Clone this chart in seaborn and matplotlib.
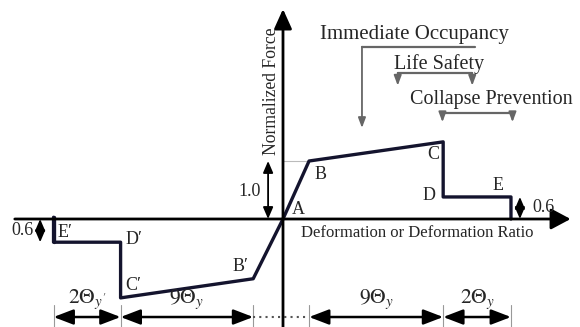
import matplotlib
matplotlib.use('Agg')
import matplotlib.pyplot as plt
import seaborn as sns
import pandas as pd

sns.set_style('white')
plt.rcParams['font.family'] = ['Liberation Serif', 'DejaVu Serif']
plt.rcParams['mathtext.fontset'] = 'stix'

# backbone curve, deformation in theta_y-ish units, force normalised to yield
pos_names = ['A', 'B', 'C', 'D', 'E', '']
pos_x = [0, 1.75, 10.75, 10.75, 15.3, 15.3]
pos_y = [0, 1.0, 1.33, 0.38, 0.38, 0.0]
neg_names = ['A', 'B′', 'C′', 'D′', 'E′', '']
neg_x = [0, -2.0, -10.9, -10.9, -15.4, -15.4]
neg_y = [0, -1.03, -1.36, -0.40, -0.40, 0.03]

# dimension chain under the plot
dim_x = [-15.4, -10.9, -2.0, 1.75, 10.75, 15.3]
dim_labels = [r"$2\mathit{\Theta}_{y'}$", r"$9\mathit{\Theta}_y$", '',
              r"$9\mathit{\Theta}_y$", r"$2\mathit{\Theta}_y$"]

curve = pd.concat([
    pd.DataFrame({'x': pos_x, 'y': pos_y, 'side': 'pos'}),
    pd.DataFrame({'x': neg_x, 'y': neg_y, 'side': 'neg'}),
])

fig = plt.figure(figsize=(5.8, 3.27), dpi=100)
ax = fig.add_axes([0, 0, 1, 1])
ax.set_xlim(-283 / 14.9, 297 / 14.9)
ax.set_ylim(-108 / 58, 219 / 58)
ax.axis('off')

# axes with arrows
ax.annotate('', xy=(19.3, 0), xytext=(-18.0, 0),
            arrowprops=dict(arrowstyle='-|>,head_length=0.6,head_width=0.32',
                            mutation_scale=20, lw=2, color='black',
                            shrinkA=0, shrinkB=0))
ax.annotate('', xy=(0, 3.62), xytext=(0, -1.9),
            arrowprops=dict(arrowstyle='-|>,head_length=0.6,head_width=0.27',
                            mutation_scale=20, lw=2, color='black',
                            shrinkA=0, shrinkB=0))

# faint guide at yield
ax.plot([0, pos_x[1]], [1.0, 1.0], color='#bbbbbb', lw=0.8)

sns.lineplot(data=curve, x='x', y='y', units='side', estimator=None, sort=False,
             color='#14142e', lw=2.4, ax=ax, legend=False)
ax.plot([neg_x[4], neg_x[4]], [neg_y[4], 0.03], color='#14142e', lw=2.4)

# point labels
offs = {'A': (11, 7), 'B': (8, -10), 'C': (-7, -9), 'D': (-10, 1),
        'E': (-9, 8), 'B′': (-9, 9), 'C′': (9, 9), 'D′': (10, 2), 'E′': (8, 7)}
for nm, xx, yy in zip(pos_names + neg_names[1:], pos_x + neg_x[1:], pos_y + neg_y[1:]):
    if nm:
        ax.annotate(nm, (xx, yy), xytext=offs[nm], textcoords='offset points',
                    ha='center', va='center', fontsize=13)

ax.text(9.0, -0.24, 'Deformation or Deformation Ratio', fontsize=12,
        ha='center', va='center')
ax.text(-0.75, 2.2, 'Normalized Force', fontsize=12.7, rotation=90,
        ha='center', va='center')

# small magnitude arrows
small = dict(arrowstyle='<|-|>,head_length=0.35,head_width=0.15', mutation_scale=20,
             lw=1.3, color='black', shrinkA=0, shrinkB=0)
ax.annotate('', xy=(-1.0, 1.0), xytext=(-1.0, 0), arrowprops=small)
ax.text(-2.25, 0.47, '1.0', fontsize=13, ha='center', va='center')
ax.annotate('', xy=(15.9, pos_y[4]), xytext=(15.9, 0), arrowprops=small)
ax.text(17.45, 0.2, '0.6', fontsize=13, ha='center', va='center')
ax.annotate('', xy=(-16.3, neg_y[4]), xytext=(-16.3, 0), arrowprops=small)
ax.text(-17.5, -0.2, '0.6', fontsize=13, ha='center', va='center')

# dimension chain
yd = -1.69
for xx in dim_x:
    ax.plot([xx, xx], [-1.48, -1.86], color='#999999', lw=0.8)
big = dict(arrowstyle='<|-|>,head_length=0.6,head_width=0.23', mutation_scale=20,
           lw=1.8, color='black', shrinkA=0, shrinkB=0)
for i, lab in enumerate(dim_labels):
    x0, x1 = dim_x[i], dim_x[i + 1]
    if lab:
        ax.annotate('', xy=(x1, yd), xytext=(x0, yd), arrowprops=big)
        ax.text((x0 + x1) / 2, -1.38, lab, fontsize=15.5, ha='center', va='center')
    else:
        ax.plot([x0, x1], [yd, yd], color='#555555', lw=1.5, ls=(0, (1, 2)))

# performance level brackets
gray = '#666666'
tip = dict(arrowstyle='-|>,head_length=0.4,head_width=0.15', mutation_scale=15,
           lw=1.3, color=gray, shrinkA=0, shrinkB=0)
ax.text(8.8, 3.18, 'Immediate Occupancy', fontsize=15, ha='center', va='center')
ax.plot([5.3, 12.9], [2.97, 2.97], color=gray, lw=1.6)
ax.annotate('', xy=(5.3, 1.57), xytext=(5.3, 2.97), arrowprops=tip)

ax.text(10.5, 2.68, 'Life Safety', fontsize=14.5, ha='center', va='center')
ax.plot([7.7, 12.7], [2.52, 2.52], color=gray, lw=1.6)
for xx in [7.7, 12.7]:
    ax.annotate('', xy=(xx, 2.3), xytext=(xx, 2.52), arrowprops=tip)

ax.text(14.0, 2.06, 'Collapse Prevention', fontsize=14.5, ha='center', va='center')
ax.plot([10.7, 15.4], [1.83, 1.83], color=gray, lw=1.6)
for xx in [10.7, 15.4]:
    ax.annotate('', xy=(xx, 1.67), xytext=(xx, 1.83), arrowprops=tip)

fig.savefig('out.png', dpi=100)
